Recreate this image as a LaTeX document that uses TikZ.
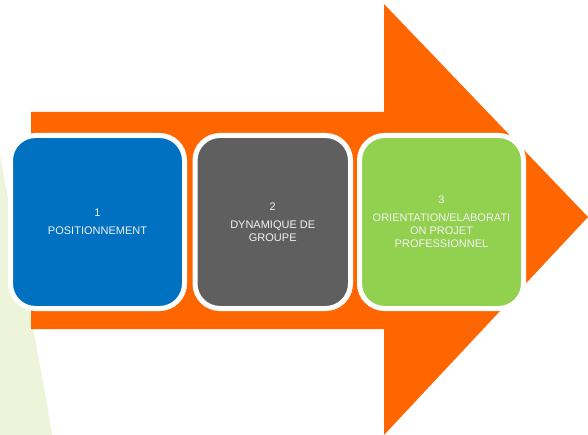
\documentclass[tikz,border=0pt]{standalone}
\usepackage{fontspec}
\setmainfont{Liberation Sans}
\usepackage{tikz}

\definecolor{arroworange}{HTML}{FF6600}
\definecolor{stepblue}{HTML}{0070C0}
\definecolor{stepgray}{HTML}{5F5F5F}
\definecolor{stepgreen}{HTML}{92D050}
\definecolor{palegreen}{HTML}{EDF4DA}
\definecolor{steptext}{HTML}{F2F2F2}

\begin{document}
\begin{tikzpicture}[x=1pt,y=-1pt,
		stepbox/.style = {draw=white, line width=5pt, rounded corners=25pt,
			minimum height=173pt, inner sep=0pt, align=center, text=steptext,
			font=\fontsize{11}{13}\selectfont}]
		\useasboundingbox (0,0) rectangle (588,435);
		\fill[white] (0,0) rectangle (588,435);
		\fill[palegreen] (0,155) .. controls (15,240) and (35,330) .. (52,435) -- (0,435) -- cycle;
		\fill[arroworange] (31,112) -- (384,112) -- (384,4) -- (588,217)
			-- (384,435) -- (384,329) -- (31,329) -- cycle;
		\node[stepbox, fill=stepblue, minimum width=174pt] (pos) at (97.5,222)
			{1\\[5pt]POSITIONNEMENT};
		\node[stepbox, fill=stepgray, minimum width=155.5pt] (dyn) at (272.75,222)
			{2\\[5pt]DYNAMIQUE DE\\GROUPE};
		\node[stepbox, fill=stepgreen, minimum width=164pt] (orient) at (441.5,222)
			{3\\[5pt]ORIENTATION/ELABORATI\\ON PROJET\\PROFESSIONNEL};
	\end{tikzpicture}
\end{document}
